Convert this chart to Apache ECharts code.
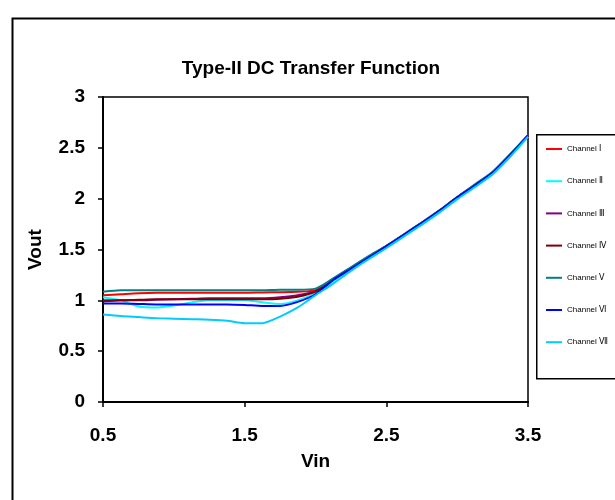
<!DOCTYPE html>
<html>
<head>
<meta charset="utf-8">
<script src="https://cdn.jsdelivr.net/npm/echarts@6/dist/echarts.min.js"></script>
<style>
html,body{margin:0;padding:0;background:#fff;}
#chart{width:615px;height:500px;}
</style>
</head>
<body>
<div id="chart"></div>
<script>
var titleText = 'Type-II DC Transfer Function';
var xName = 'Vin';
var yName = 'Vout';
var xTicks = [0.5, 1.5, 2.5, 3.5];
var seriesNames = ['Channel Ⅰ','Channel Ⅱ','Channel Ⅲ','Channel Ⅳ','Channel Ⅴ','Channel Ⅵ','Channel Ⅶ'];
var seriesColors = ['#FF0000','#00FFFF','#800080','#800000','#008080','#0000FF','#00CCFF'];

var vin = [0.5,0.625,0.75,0.875,1.0,1.125,1.25,1.375,1.5,1.625,1.75,1.875,2.0,2.125,2.25,2.375,2.5,2.625,2.75,2.875,3.0,3.125,3.25,3.375,3.5];

var ch1 = [1.05,1.06,1.07,1.075,1.075,1.075,1.075,1.075,1.075,1.078,1.08,1.085,1.10,1.21,1.32,1.43,1.535,1.65,1.765,1.885,2.015,2.135,2.26,2.435,2.625];
var ch2 = [1.03,1.00,0.94,0.93,0.95,0.98,1.0,1.0,1.0,0.98,0.965,1.0,1.07,1.19,1.30,1.41,1.515,1.63,1.745,1.865,1.995,2.115,2.24,2.415,2.61];
var ch3 = [1.0,1.0,1.0,1.005,1.01,1.015,1.02,1.02,1.02,1.02,1.03,1.05,1.09,1.205,1.315,1.425,1.53,1.645,1.76,1.88,2.01,2.13,2.255,2.43,2.62];
var ch4 = [0.99,1.0,1.005,1.01,1.01,1.01,1.01,1.01,1.01,1.01,1.015,1.035,1.085,1.205,1.315,1.425,1.53,1.645,1.76,1.88,2.01,2.13,2.255,2.43,2.62];
var ch5 = [1.085,1.10,1.10,1.10,1.10,1.10,1.10,1.10,1.10,1.10,1.105,1.105,1.115,1.215,1.325,1.435,1.535,1.65,1.765,1.885,2.015,2.14,2.265,2.44,2.625];
var ch6 = [0.97,0.97,0.965,0.96,0.96,0.96,0.96,0.96,0.955,0.945,0.945,0.985,1.06,1.2,1.31,1.42,1.53,1.645,1.76,1.88,2.01,2.13,2.255,2.43,2.62];
var ch7 = [0.86,0.845,0.835,0.825,0.82,0.815,0.81,0.80,0.775,0.775,0.84,0.93,1.05,1.165,1.29,1.405,1.515,1.63,1.745,1.865,1.995,2.115,2.24,2.415,2.61];

var allData = [ch1,ch2,ch3,ch4,ch5,ch6,ch7];

var FONT = '"Liberation Sans", Arial, "DejaVu Sans", "Noto Sans CJK SC", sans-serif';
var LEGEND_FONT = '"Liberation Sans", "DejaVu Sans", "Noto Sans", sans-serif';

var series = allData.map(function(arr, i){
  return {
    name: seriesNames[i],
    type: 'line',
    data: vin.map(function(x, j){ return [x, arr[j]]; }),
    showSymbol: false,
    symbol: 'none',
    smooth: 0.25,
    lineStyle: {width: 2, color: seriesColors[i]},
    itemStyle: {color: seriesColors[i]},
    emphasis: {disabled: true},
    animation: false
  };
});

var chart = echarts.init(document.getElementById('chart'), null, {renderer: 'canvas'});
chart.setOption({
  animation: false,
  backgroundColor: '#fff',
  textStyle: {fontFamily: FONT},
  title: {
    text: titleText,
    left: 306, top: 54,
    textAlign: 'center',
    textStyle: {fontFamily: FONT, fontWeight: 'bold', fontSize: 19, color: '#000'}
  },
  graphic: [
    {type: 'rect', left: 10, top: 16, shape: {width: 700, height: 600},
     style: {fill: 'none', stroke: '#000', lineWidth: 2}, z: -1},
    {type: 'rect', left: 536, top: 134, shape: {width: 90, height: 244},
     style: {fill: '#fff', stroke: '#000', lineWidth: 1.5}, z: 0}
  ],
  legend: {
    orient: 'vertical',
    left: 546, top: 143,
    padding: 0,
    itemWidth: 16, itemHeight: 2,
    icon: 'rect',
    itemGap: 20.2,
    textStyle: {fontFamily: LEGEND_FONT, fontSize: 8, color: '#000', lineHeight: 12},
    data: seriesNames.map(function(n, i){ return {name: n, itemStyle: {color: seriesColors[i]}}; }),
    z: 5
  },
  grid: {
    left: 103, top: 97, right: 87, bottom: 98,
    show: true, borderColor: '#000', borderWidth: 1.5, backgroundColor: 'transparent'
  },
  xAxis: {
    type: 'value', min: 0.5, max: 3.5,
    name: xName, nameLocation: 'middle', nameGap: 50,
    nameTextStyle: {fontFamily: FONT, fontWeight: 'bold', fontSize: 19, color: '#000'},
    splitLine: {show: false},
    axisLine: {show: true, onZero: false, lineStyle: {color: '#000', width: 2}},
    axisTick: {show: true, inside: false, length: 5, customValues: xTicks, lineStyle: {color: '#000', width: 1.5}},
    axisLabel: {customValues: xTicks, margin: 24, fontFamily: FONT, fontWeight: 'bold', fontSize: 19, color: '#000',
      formatter: function(v){ return String(v); }}
  },
  yAxis: {
    type: 'value', min: 0, max: 3, interval: 0.5,
    name: yName, nameLocation: 'middle', nameGap: 58, nameRotate: 90,
    nameTextStyle: {fontFamily: FONT, fontWeight: 'bold', fontSize: 19, color: '#000'},
    splitLine: {show: false},
    axisLine: {show: true, onZero: false, lineStyle: {color: '#000', width: 2}},
    axisTick: {show: true, inside: false, length: 5, lineStyle: {color: '#000', width: 1.5}},
    axisLabel: {margin: 18, fontFamily: FONT, fontWeight: 'bold', fontSize: 19, color: '#000'}
  },
  series: series
});
</script>
</body>
</html>
